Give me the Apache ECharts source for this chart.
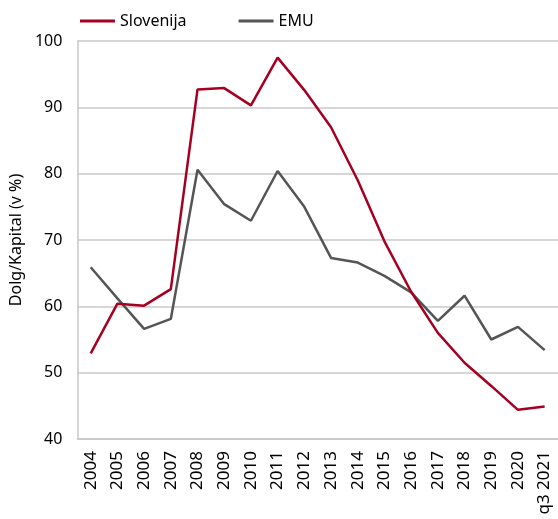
<!DOCTYPE html>
<html><head><meta charset="utf-8">
<script src="https://cdn.jsdelivr.net/npm/echarts@6/dist/echarts.min.js"></script>
<style>html,body{margin:0;padding:0;background:#fff}#c{width:558px;height:519px}</style>
</head><body><div id="c"></div>
<script>
const categories = ['2004','2005','2006','2007','2008','2009','2010','2011','2012','2013','2014','2015','2016','2017','2018','2019','2020','q3 2021'];
const slovenija = [52.9,60.4,60.1,62.6,92.7,92.9,90.3,97.5,92.6,87.0,79.0,69.8,62.2,56.0,51.5,48.0,44.4,44.9];
const emu = [65.9,61.2,56.6,58.1,80.6,75.4,72.9,80.4,75.0,67.3,66.6,64.6,62.1,57.8,61.6,55.0,56.9,53.4];
const yTicks = [40,50,60,70,80,90,100];
const font = 'Noto Sans';
const chart = echarts.init(document.getElementById('c'));
chart.setOption({
  animation:false,
  legend:{left:75,top:8,itemWidth:35,itemHeight:3,itemGap:52,icon:'rect',
    textStyle:{fontFamily:font,fontSize:16,color:'#000'},
    data:['Slovenija','EMU']},
  grid:{left:73,right:-2,top:41,bottom:80,containLabel:false},
  xAxis:{type:'category',data:categories,boundaryGap:true,
    axisLine:{show:true,lineStyle:{color:'#c8c8c8',width:1.5}},
    axisTick:{show:false},
    axisLabel:{rotate:90,interval:0,fontFamily:font,fontSize:17,color:'#000',margin:12}},
  yAxis:{type:'value',min:yTicks[0],max:yTicks[yTicks.length-1],interval:10,
    name:'Dolg/Kapital (v %)',nameLocation:'middle',nameGap:50,
    nameTextStyle:{fontFamily:font,fontSize:16,color:'#000'},
    axisLine:{show:true,lineStyle:{color:'#c8c8c8',width:1.5}},
    axisTick:{show:false},
    splitLine:{lineStyle:{color:'#c8c8c8',width:1.5}},
    axisLabel:{fontFamily:font,fontSize:16,color:'#000',margin:15}},
  series:[
    {name:'Slovenija',type:'line',data:slovenija,symbol:'none',
      lineStyle:{color:'#a50021',width:2.5},itemStyle:{color:'#a50021'},z:3},
    {name:'EMU',type:'line',data:emu,symbol:'none',
      lineStyle:{color:'#555555',width:2.5},itemStyle:{color:'#555555'},z:2}
  ]
});
</script></body></html>
